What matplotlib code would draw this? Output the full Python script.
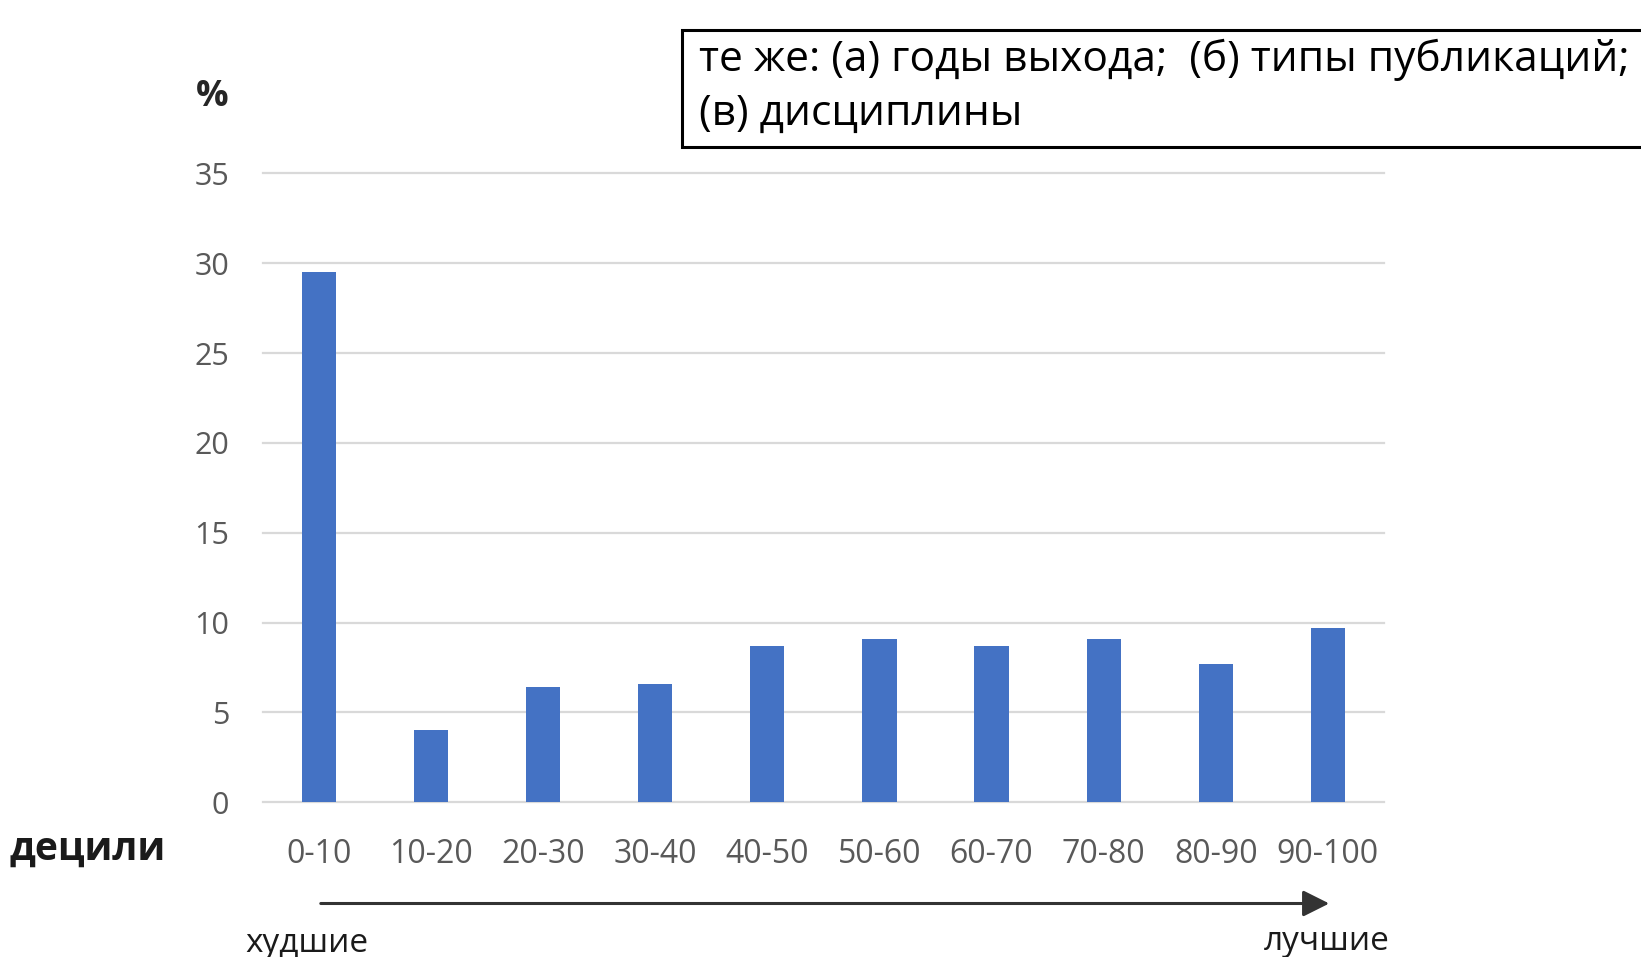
import matplotlib
matplotlib.use("Agg")
import matplotlib.pyplot as plt
from matplotlib.patches import Rectangle, FancyArrowPatch

# Share of items per decile (%)
deciles = ["0-10", "10-20", "20-30", "30-40", "40-50",
           "50-60", "60-70", "70-80", "80-90", "90-100"]
shares = [29.5, 4.0, 6.4, 6.6, 8.7, 9.1, 8.7, 9.1, 7.7, 9.7]
y_ticks = [0, 5, 10, 15, 20, 25, 30, 35]

box_lines = ["те же: (а) годы выхода;  (б) типы публикаций;",
             "(в) дисциплины"]
y_unit = "%"
x_name = "децили"
worst_label = "худшие"
best_label = "лучшие"

W, H = 1641, 957
BAR = "#4472C4"
GRID = "#D9D9D9"
TICK = "#595959"
FONT = ["Open Sans", "DejaVu Sans"]

plt.rcParams["font.family"] = FONT

fig = plt.figure(figsize=(W / 100, H / 100), dpi=100)
fig.patch.set_facecolor("white")


def fx(px):
    return px / W


def fy(py):
    return 1 - py / H


ax = fig.add_axes([fx(262.7), fy(802.3), fx(1121.3), 629 / H])
x = list(range(len(deciles)))
ax.bar(x, shares, width=0.306, color=BAR, zorder=3)

ax.set_xlim(-0.5, len(deciles) - 0.5)
ax.set_ylim(0, 35)
ax.set_yticks(y_ticks)
ax.set_xticks(x)
ax.set_xticklabels(deciles)
ax.tick_params(axis="both", length=0, labelsize=22, labelcolor=TICK)
ax.tick_params(axis="x", labelsize=23, pad=25.5)
ax.tick_params(axis="y", pad=24)
ax.yaxis.grid(True, color=GRID, linewidth=1.6, zorder=0)
ax.set_axisbelow(True)
for sp in ax.spines.values():
    sp.set_visible(False)
for gl in ax.get_ygridlines():
    gl.set_clip_on(False)

# axis captions
fig.text(fx(211.7), fy(97), y_unit, ha="center", va="center",
         fontsize=26, fontweight="bold", color="#262626")
fig.text(fx(9), fy(849), x_name, ha="left", va="center",
         fontsize=28, fontweight="bold", color="#1a1a1a")

# direction arrow under the categories
arrow = FancyArrowPatch((fx(318), fy(903.5)), (fx(1332), fy(903.5)),
                        transform=fig.transFigure,
                        arrowstyle="-|>,head_length=0.8,head_width=0.4",
                        mutation_scale=20, color="#333333", linewidth=2.2)
fig.add_artist(arrow)
fig.text(fx(306.7), fy(943), worst_label, ha="center", va="center",
         fontsize=24, color="#1a1a1a")
fig.text(fx(1327), fy(941), best_label, ha="center", va="center",
         fontsize=24, color="#1a1a1a")

# framed note in the top right corner
fig.add_artist(Rectangle((fx(681.7), fy(147)), fx(1700 - 681.7), (147 - 29.5) / H,
                         transform=fig.transFigure, facecolor="white",
                         edgecolor="black", linewidth=2.2, clip_on=False))
fig.text(fx(699), fy(71), box_lines[0], ha="left", va="baseline",
         fontsize=30.6, color="black")
fig.text(fx(699), fy(125), box_lines[1], ha="left", va="baseline",
         fontsize=30.6, color="black")

fig.savefig("out.png", dpi=100, facecolor="white")
